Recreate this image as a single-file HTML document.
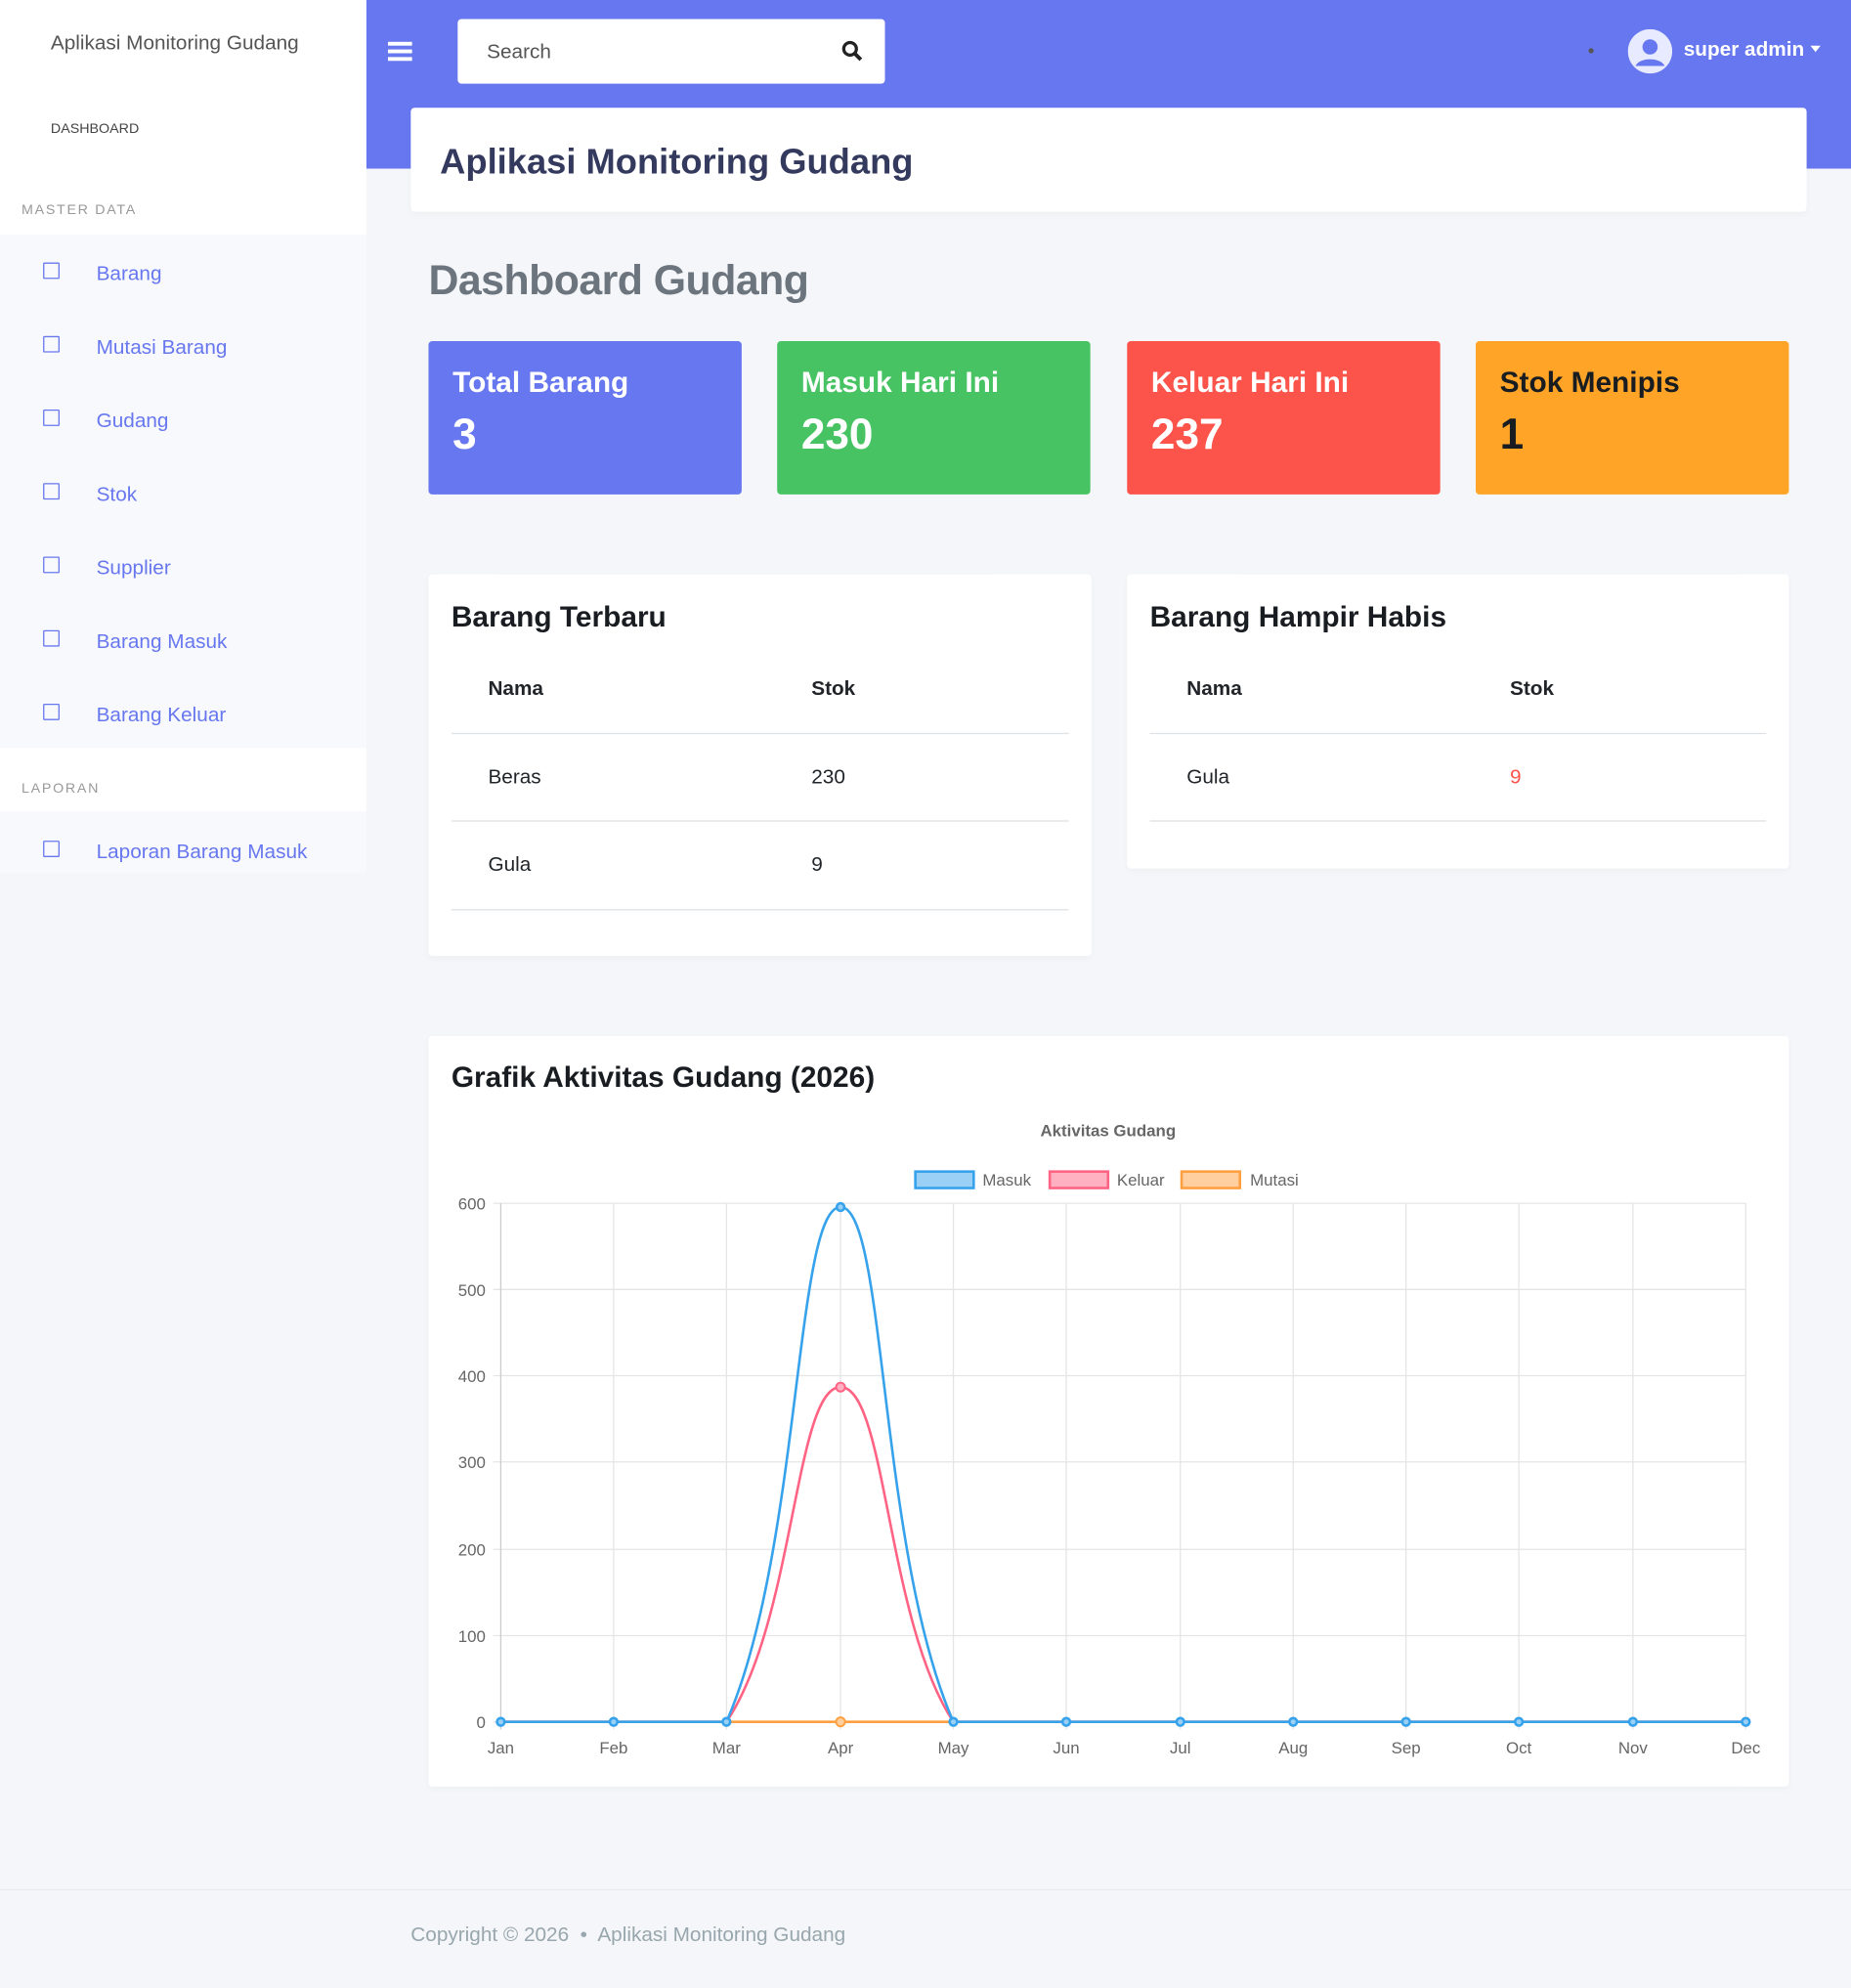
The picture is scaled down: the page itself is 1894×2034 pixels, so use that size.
<!DOCTYPE html>
<html><head><meta charset="utf-8"><style>
*{box-sizing:border-box;margin:0;padding:0}
html,body{width:1894px;height:2034px;overflow:hidden;background:#f4f6f9;font-family:"Liberation Sans",sans-serif}
#w{position:absolute;left:0;top:0;width:1460px;height:1568px;transform:scale(1.29726);transform-origin:0 0;background:#f4f6f9}
.a{position:absolute}
.card{position:absolute;background:#fff;border-radius:3px;box-shadow:0 2px 6px rgba(0,0,0,.03)}
.sb{position:absolute;left:0;width:289px}
.it{position:absolute;left:76px;color:#6777ef;font-size:16px}
.bx{position:absolute;left:34px;width:13px;height:13px;border:1.6px solid #6777ef;border-radius:1px}
.st{position:absolute;top:269px;width:247px;height:121px;border-radius:3px;color:#fff}
.st b{position:absolute;left:19px;top:19px;font-size:23px}
.st i{position:absolute;left:19px;top:55px;font-size:34px;font-style:normal;font-weight:bold}
.t{font-size:16px;color:#212529;position:absolute}
.hl{position:absolute;height:1px;background:#dee2e6}
</style></head><body><div id="w">
<div class="sb" style="top:0;height:185px;background:#fff"></div>
<div class="sb" style="top:185px;height:405px;background:#f8f9fc"></div>
<div class="sb" style="top:590px;height:50px;background:#fff"></div>
<div class="sb" style="top:640px;height:48px;background:#f8f9fc"></div>
<div class="a" style="left:40px;top:26px;font-size:16px;color:#555">Aplikasi Monitoring Gudang</div>
<div class="a" style="left:40px;top:96px;font-size:11px;color:#444">DASHBOARD</div>
<div class="a" style="left:17px;top:160px;font-size:11px;color:#999;letter-spacing:1.3px">MASTER DATA</div>
<div class="a" style="left:17px;top:616px;font-size:11px;color:#999;letter-spacing:1.3px">LAPORAN</div>
<div class="bx" style="top:207px"></div><div class="it" style="top:208px">Barang</div>
<div class="bx" style="top:265px"></div><div class="it" style="top:266px">Mutasi Barang</div>
<div class="bx" style="top:323px"></div><div class="it" style="top:324px">Gudang</div>
<div class="bx" style="top:381px"></div><div class="it" style="top:382px">Stok</div>
<div class="bx" style="top:439px"></div><div class="it" style="top:440px">Supplier</div>
<div class="bx" style="top:497px"></div><div class="it" style="top:498px">Barang Masuk</div>
<div class="bx" style="top:555px"></div><div class="it" style="top:556px">Barang Keluar</div>
<div class="bx" style="top:663px"></div><div class="it" style="top:664px">Laporan Barang Masuk</div>

<div class="a" style="left:289px;top:0;width:1171px;height:133px;background:#6777ef"></div>
<div class="a" style="left:306px;top:33px;width:19px;height:3px;background:#fff;box-shadow:0 6px 0 #fff,0 12px 0 #fff"></div>
<div class="a" style="left:361px;top:15px;width:337px;height:51px;background:#fff;border-radius:3px"></div>
<div class="a" style="left:384px;top:33px;font-size:16px;color:#555">Search</div>
<svg class="a" style="left:663px;top:31px" width="18" height="18"><circle cx="7.5" cy="7.5" r="5" fill="none" stroke="#222" stroke-width="2.5"/><line x1="11" y1="11" x2="16" y2="16" stroke="#222" stroke-width="3"/></svg>
<div class="a" style="left:1253px;top:38px;width:4px;height:4px;border-radius:2px;background:#555"></div>
<svg class="a" style="left:1284px;top:23px" width="35" height="35"><circle cx="17.5" cy="17.5" r="17.5" fill="#e8ebff"/><circle cx="17.5" cy="14" r="6" fill="#6777ef"/><path d="M6 29c3-7 20-7 23 0" fill="#6777ef"/></svg>
<div class="a" style="left:1328px;top:31px;font-size:16px;color:#fff;font-weight:bold">super admin</div>
<div class="a" style="left:1428px;top:36px;border:4px solid transparent;border-top:5px solid #fff"></div>

<div class="card" style="left:324px;top:85px;width:1101px;height:82px"></div>
<div class="a" style="left:347px;top:112px;font-size:28px;color:#34395e;font-weight:bold">Aplikasi Monitoring Gudang</div>
<div class="a" style="left:338px;top:202px;font-size:33px;color:#6c757d;font-weight:bold;letter-spacing:-0.4px">Dashboard Gudang</div>

<div class="st" style="left:338px;background:#6777ef"><b>Total Barang</b><i>3</i></div>
<div class="st" style="left:613px;background:#47c363"><b>Masuk Hari Ini</b><i>230</i></div>
<div class="st" style="left:889px;background:#fc544b"><b>Keluar Hari Ini</b><i>237</i></div>
<div class="st" style="left:1164px;background:#ffa426;color:#191d21"><b>Stok Menipis</b><i>1</i></div>

<div class="card" style="left:338px;top:453px;width:523px;height:301px"></div>
<div class="a" style="left:356px;top:473px;font-size:23px;font-weight:bold;color:#191d21">Barang Terbaru</div>
<div class="t" style="left:385px;top:535px;font-weight:bold">Nama</div><div class="t" style="left:640px;top:535px;font-weight:bold">Stok</div>
<div class="hl" style="left:356px;top:578px;width:487px"></div>
<div class="t" style="left:385px;top:605px">Beras</div><div class="t" style="left:640px;top:605px">230</div>
<div class="hl" style="left:356px;top:647px;width:487px"></div>
<div class="t" style="left:385px;top:674px">Gula</div><div class="t" style="left:640px;top:674px">9</div>
<div class="hl" style="left:356px;top:717px;width:487px"></div>

<div class="card" style="left:889px;top:453px;width:522px;height:232px"></div>
<div class="a" style="left:907px;top:473px;font-size:23px;font-weight:bold;color:#191d21">Barang Hampir Habis</div>
<div class="t" style="left:936px;top:535px;font-weight:bold">Nama</div><div class="t" style="left:1191px;top:535px;font-weight:bold">Stok</div>
<div class="hl" style="left:907px;top:578px;width:486px"></div>
<div class="t" style="left:936px;top:605px">Gula</div><div class="t" style="left:1191px;top:605px;color:#fc544b">9</div>
<div class="hl" style="left:907px;top:647px;width:486px"></div>

<div class="card" style="left:338px;top:817px;width:1073px;height:592px"></div>
<div class="a" style="left:356px;top:836px;font-size:23px;font-weight:bold;color:#191d21">Grafik Aktivitas Gudang (2026)</div>
<svg class="a" style="left:0;top:0" width="1460" height="1568" font-family="Liberation Sans, sans-serif">
<text x="874" y="896" text-anchor="middle" font-size="13" font-weight="bold" fill="#666">Aktivitas Gudang</text>
<rect x="722" y="924" width="46" height="13" fill="#9ad0f5" stroke="#36a2eb" stroke-width="2"/><text x="775" y="935" font-size="13" fill="#666">Masuk</text>
<rect x="828" y="924" width="46" height="13" fill="#ffb1c1" stroke="#ff6384" stroke-width="2"/><text x="881" y="935" font-size="13" fill="#666">Keluar</text>
<rect x="932" y="924" width="46" height="13" fill="#ffcf9f" stroke="#ff9f40" stroke-width="2"/><text x="986" y="935" font-size="13" fill="#666">Mutasi</text>
<g stroke="#e5e5e5" stroke-width="1">
<line x1="389" y1="949" x2="1377" y2="949"/><line x1="389" y1="1017" x2="1377" y2="1017"/><line x1="389" y1="1085" x2="1377" y2="1085"/><line x1="389" y1="1153" x2="1377" y2="1153"/><line x1="389" y1="1222" x2="1377" y2="1222"/><line x1="389" y1="1290" x2="1377" y2="1290"/><line x1="389" y1="1358" x2="1377" y2="1358"/>
<line x1="395" y1="949" x2="395" y2="1364" stroke="#ccc"/><line x1="484" y1="949" x2="484" y2="1364"/><line x1="573" y1="949" x2="573" y2="1364"/><line x1="663" y1="949" x2="663" y2="1364"/><line x1="752" y1="949" x2="752" y2="1364"/><line x1="841" y1="949" x2="841" y2="1364"/><line x1="931" y1="949" x2="931" y2="1364"/><line x1="1020" y1="949" x2="1020" y2="1364"/><line x1="1109" y1="949" x2="1109" y2="1364"/><line x1="1198" y1="949" x2="1198" y2="1364"/><line x1="1288" y1="949" x2="1288" y2="1364"/><line x1="1377" y1="949" x2="1377" y2="1364"/>
</g>
<g font-size="13" fill="#666" text-anchor="end">
<text x="383" y="954">600</text><text x="383" y="1022">500</text><text x="383" y="1090">400</text><text x="383" y="1158">300</text><text x="383" y="1227">200</text><text x="383" y="1295">100</text><text x="383" y="1363">0</text></g>
<g font-size="13" fill="#666" text-anchor="middle">
<text x="395" y="1383">Jan</text><text x="484" y="1383">Feb</text><text x="573" y="1383">Mar</text><text x="663" y="1383">Apr</text><text x="752" y="1383">May</text><text x="841" y="1383">Jun</text><text x="931" y="1383">Jul</text><text x="1020" y="1383">Aug</text><text x="1109" y="1383">Sep</text><text x="1198" y="1383">Oct</text><text x="1288" y="1383">Nov</text><text x="1377" y="1383">Dec</text></g>
<path d="M395 1358H1377" stroke="#ff9f40" stroke-width="2"/>
<path d="M395 1358H573C627 1278 627 1094 663 1094C699 1094 699 1278 752 1358H1377" fill="none" stroke="#ff6384" stroke-width="2"/>
<path d="M395 1358H573C632 1224 627 952 663 952C699 952 693 1224 752 1358H1377" fill="none" stroke="#36a2eb" stroke-width="2"/>
<circle cx="663" cy="1358" r="3.5" fill="#ffcf9f" stroke="#ff9f40" stroke-width="1.5"/>
<circle cx="663" cy="1094" r="3.5" fill="#ffb1c1" stroke="#ff6384" stroke-width="1.5"/>
<g fill="#9ad0f5" stroke="#36a2eb" stroke-width="2">
<circle cx="663" cy="952" r="3"/><circle cx="395" cy="1358" r="3"/><circle cx="484" cy="1358" r="3"/><circle cx="573" cy="1358" r="3"/><circle cx="752" cy="1358" r="3"/><circle cx="841" cy="1358" r="3"/><circle cx="931" cy="1358" r="3"/><circle cx="1020" cy="1358" r="3"/><circle cx="1109" cy="1358" r="3"/><circle cx="1198" cy="1358" r="3"/><circle cx="1288" cy="1358" r="3"/><circle cx="1377" cy="1358" r="3"/></g>
</svg>
<div class="a" style="left:0;top:1490px;width:1460px;height:1px;background:#e8eaef"></div>
<div class="a" style="left:324px;top:1518px;font-size:16px;color:#98a6ad">Copyright © 2026 &nbsp;•&nbsp; Aplikasi Monitoring Gudang</div>
</div></body></html>
